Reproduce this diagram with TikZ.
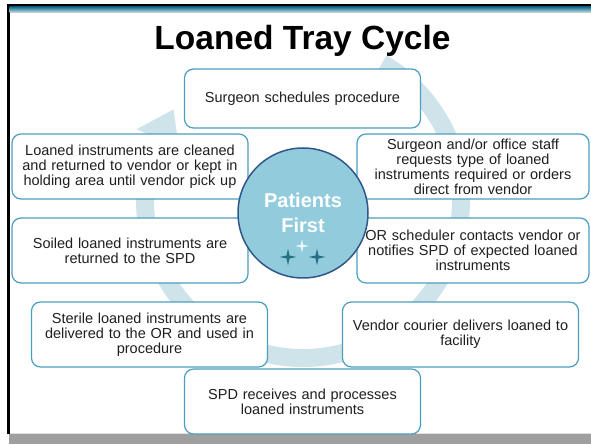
\documentclass[tikz,border=0pt]{standalone}
\usepackage{fontspec}
\setmainfont{Liberation Sans}
\usetikzlibrary{shapes.geometric,calc}
\definecolor{boxline}{RGB}{74,158,190}
\definecolor{ringblue}{RGB}{207,227,235}
\definecolor{hubfill}{RGB}{146,204,220}
\definecolor{hubline}{RGB}{48,86,140}
\definecolor{sparkdark}{RGB}{38,112,132}
\definecolor{topteal}{RGB}{24,112,142}
\tikzset{
  stepbox/.style={draw=boxline, fill=white, line width=1.2pt, rounded corners=9pt,
    minimum width=236pt, minimum height=65pt, text width=226pt, align=center,
    inner sep=2pt, text=black!88, font=\fontsize{14.5}{15}\selectfont},
  spark/.style={star, star points=4, star point ratio=4, inner sep=0pt,
    fill=sparkdark, minimum size=17pt}
}
\begin{document}
\begin{tikzpicture}[x=1pt,y=1pt,>=latex,thick]
\useasboundingbox (0,0) rectangle (591,444);
% slide frame
\fill[gray!75] (9,0) rectangle (591,11);
\fill[gray!25] (9,10) rectangle (591,11.5);
\fill[black] (7,10) rectangle (9.5,439.5);
\fill[black] (7,437) rectangle (591,439.5);
\shade[top color=topteal, bottom color=topteal!25] (9.5,431.5) rectangle (591,437);
% cycle arrow behind the steps
\coordinate (ring) at (303,244);
\fill[ringblue] ($(ring)+(60:167)$) arc[start angle=60, end angle=-203, radius=167]
  -- ($(ring)+(157:181)$) -- ($(ring)+(145:158)$) -- ($(ring)+(157:135)$)
  -- ($(ring)+(157:149)$) arc[start angle=-203, end angle=60, radius=149] -- cycle;
\node[anchor=base, font=\fontsize{33.5}{38}\selectfont\bfseries] (title) at (302.5,394) {Loaned Tray Cycle};
% steps
\node[stepbox, minimum height=59pt] (sched) at (302.5,345.5) {Surgeon schedules procedure};
\node[stepbox, minimum width=232pt] (request) at (473,277.5) {Surgeon and/or office staff\\requests type of loaned\\instruments required or orders\\direct from vendor};
\node[stepbox, minimum width=232pt] (notify) at (473,193.5) {OR scheduler contacts vendor or\\notifies SPD of expected loaned\\instruments};
\node[stepbox] (courier) at (460.5,109.5) {Vendor courier delivers loaned to\\facility};
\node[stepbox] (process) at (302.5,42.5) {SPD receives and processes\\loaned instruments};
\node[stepbox] (sterile) at (149.5,109.5) {Sterile loaned instruments are\\delivered to the OR and used in\\procedure};
\node[stepbox] (soiled) at (130,193.5) {Soiled loaned instruments are\\returned to the SPD};
\node[stepbox] (cleaned) at (130,277.5) {Loaned instruments are cleaned\\and returned to vendor or kept in\\holding area until vendor pick up};
% hub
\node[circle, draw=hubline, line width=1.5pt, fill=hubfill, minimum size=130pt, inner sep=0pt,
  align=center, text=white, font=\fontsize{20}{25}\selectfont\bfseries] (hub) at (303,231) {Patients\\First};
\node[spark, fill=white!80!hubfill, minimum size=14pt] (glint) at (302,198) {};
\node[spark] (sparkl) at (288,187) {};
\node[spark] (sparkr) at (317,187) {};
\end{tikzpicture}
\end{document}
